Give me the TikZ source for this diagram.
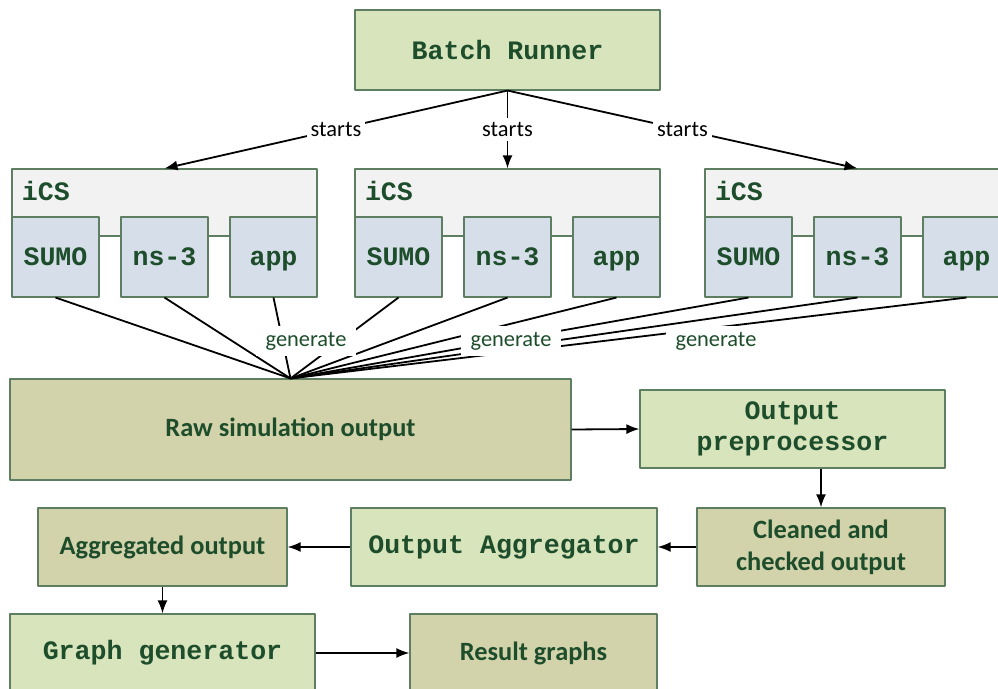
\documentclass[tikz,border=0pt]{standalone}
\usepackage{fontspec}
\setmainfont{Carlito}
\setmonofont{Liberation Mono}
\usetikzlibrary{arrows.meta}

\definecolor{boxline}{HTML}{5E7E62}
\definecolor{textgreen}{HTML}{1D4D2B}
\definecolor{toolfill}{HTML}{D8E4BC}
\definecolor{datafill}{HTML}{D3D3AB}
\definecolor{icsfill}{HTML}{F2F2F2}
\definecolor{simfill}{HTML}{D6DFE9}

\begin{document}
\begin{tikzpicture}[x=1bp,y=-1bp,>={Latex[length=13bp,width=10bp]},line join=bevel,
  box/.style={draw=boxline,line width=1.1bp,text=textgreen,inner sep=0pt,align=center},
  tool/.style={box,fill=toolfill,minimum width=305bp,minimum height=78bp,
    font=\fontsize{26.7}{31}\selectfont\ttfamily\bfseries},
  data/.style={box,fill=datafill,minimum height=78bp,
    font=\fontsize{26.5}{32}\selectfont\bfseries},
  icsbox/.style={box,fill=icsfill,minimum width=305bp,minimum height=67bp,
    text width=285bp,align=left,text height=15bp,text depth=20bp,
    font=\fontsize{26.7}{31}\selectfont\ttfamily\bfseries},
  simbox/.style={box,fill=simfill,minimum width=87bp,minimum height=80bp,
    text height=17bp,text depth=0bp,
    font=\fontsize{26.7}{31}\selectfont\ttfamily\bfseries},
  edge/.style={line width=1.8bp},
  lbl/.style={fill=white,inner sep=4bp,font=\fontsize{22.5}{24}\selectfont},
  genlbl/.style={lbl,text=textgreen,inner xsep=10bp,inner ysep=6bp}]
\useasboundingbox (0,0) rectangle (998,689);
\clip (0,0) rectangle (998,689);
%%
  % Node: batch
  \node[tool,minimum height=80bp] (batch) at (507.5,50) {Batch Runner};
  % Node: icsA
  \node[icsbox] (icsA) at (164.5,202.5) {iCS};
  \node[simbox] (sumoA) at (55.5,257) {SUMO};
  \node[simbox] (nsA) at (164.5,257) {ns-3};
  \node[simbox] (appA) at (273.5,257) {app};
  % Node: icsB
  \node[icsbox] (icsB) at (507.5,202.5) {iCS};
  \node[simbox] (sumoB) at (398.5,257) {SUMO};
  \node[simbox] (nsB) at (507.5,257) {ns-3};
  \node[simbox] (appB) at (616.5,257) {app};
  % Node: icsC
  \node[icsbox] (icsC) at (857.5,202.5) {iCS};
  \node[simbox] (sumoC) at (748.5,257) {SUMO};
  \node[simbox] (nsC) at (857.5,257) {ns-3};
  \node[simbox] (appC) at (966.5,257) {app};
  % Node: raw
  \node[data,minimum width=561bp,minimum height=101bp] (raw) at (290.5,429.5) {Raw simulation output};
  % Node: prep
  \node[tool] (prep) at (792.5,429) {Output\\preprocessor};
  % Node: clean
  \node[data,minimum width=248bp] (clean) at (821,547) {Cleaned and\\checked output};
  % Node: aggr
  \node[tool,minimum width=306bp] (aggr) at (504,547) {Output Aggregator};
  % Node: aggout
  \node[data,minimum width=249bp] (aggout) at (162.5,547) {Aggregated output};
  % Node: graphgen
  \node[tool] (graphgen) at (162.5,653) {Graph generator};
  % Node: results
  \node[data,minimum width=247bp] (results) at (533.5,653) {Result graphs};
%%
  % Edge: batch -> icsA, icsB, icsC
  \draw[edge,->] (batch.south) -- (icsA.north) node[lbl,pos=0.5] {starts};
  \draw[edge,->] (batch.south) -- (icsB.north) node[lbl,pos=0.5] {starts};
  \draw[edge,->] (batch.south) -- (icsC.north) node[lbl,pos=0.5] {starts};
  % Edge: simulators -> raw
  \draw[edge] (sumoA.south) -- (raw.north);
  \draw[edge] (nsA.south) -- (raw.north);
  \draw[edge] (appA.south) -- (raw.north);
  \draw[edge] (sumoB.south) -- (raw.north);
  \draw[edge] (nsB.south) -- (raw.north);
  \draw[edge] (appB.south) -- (raw.north);
  \draw[edge] (sumoC.south) -- (raw.north);
  \draw[edge] (nsC.south) -- (raw.north);
  \draw[edge] (appC.south) -- (raw.north);
  \node[genlbl] (genA) at (306,341) {generate};
  \node[genlbl] (genB) at (511,341) {generate};
  \node[genlbl] (genC) at (716,341) {generate};
  % Edge: raw -> prep
  \draw[edge,->] (raw.east) -- (prep.west);
  % Edge: prep -> clean
  \draw[edge,->] (prep.south -| clean.north) -- (clean.north);
  % Edge: clean -> aggr
  \draw[edge,->] (clean.west) -- (aggr.east);
  % Edge: aggr -> aggout
  \draw[edge,->] (aggr.west) -- (aggout.east);
  % Edge: aggout -> graphgen
  \draw[edge,->] (aggout.south) -- (graphgen.north);
  % Edge: graphgen -> results
  \draw[edge,->] (graphgen.east) -- (results.west);
%
\end{tikzpicture}
\end{document}
